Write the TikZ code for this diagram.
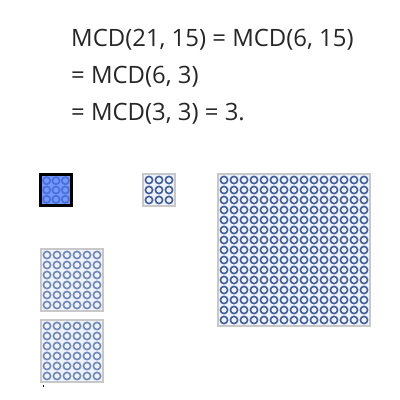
\documentclass[tikz,border=0pt]{standalone}
\usepackage{fontspec}
\setmainfont{Open Sans}
\usetikzlibrary{positioning}

\definecolor{tileframe}{HTML}{C8C8C8}
\definecolor{tilefill}{HTML}{EEF2FF}
\definecolor{ringdark}{HTML}{3E5C98}
\definecolor{ringlight}{HTML}{6E86B8}
\definecolor{pickfill}{HTML}{7098FF}
\definecolor{pickring}{HTML}{4A6ED8}

% grid of rings: left, top, count, cell size, colour
\newcommand{\ringgrid}[5]{%
  \foreach \i in {1,...,#3}
    \foreach \j in {1,...,#3}
      \draw[line width=1.6pt, draw=#5] ({#1+(\i-0.5)*#4},{#2+(\j-0.5)*#4}) circle (3.6);
}

\tikzset{
  eqtext/.style={anchor=base west, inner sep=0pt, font=\fontsize{23.9}{28}\selectfont, text=black!85},
}

\begin{document}
\begin{tikzpicture}[x=1pt,y=-1pt]
\useasboundingbox (0,0) rectangle (400,400);
% equations
\node[eqtext] (line1) at (71,46) {MCD(21, 15) = MCD(6, 15)};
\node[eqtext] (line2) at (71,83) {= MCD(6, 3)};
\node[eqtext] (line3) at (71,120) {= MCD(3, 3) = 3.};
% chosen square
\fill[black] (39,173) rectangle (73,207);
\fill[pickfill] (42,176) rectangle (70,204);
\ringgrid{42}{176}{3}{9.3333}{pickring}
% small square
\fill[tileframe] (142,173) rectangle (176,207);
\fill[tilefill] (144,175) rectangle (174,205);
\ringgrid{144}{175}{3}{10}{ringdark}
% big square
\fill[tileframe] (217,173) rectangle (371,327);
\fill[tilefill] (219,175) rectangle (369,325);
\ringgrid{219}{175}{15}{10}{ringdark}
% two left squares
\fill[tileframe] (40,248) rectangle (104,312);
\fill[tilefill] (42,250) rectangle (102,310);
\ringgrid{42}{250}{6}{10}{ringlight}
\fill[tileframe] (40,319) rectangle (104,383);
\fill[tilefill] (42,321) rectangle (102,381);
\ringgrid{42}{321}{6}{10}{ringlight}
% stray mark
\fill[black] (42.5,384.5) rectangle (43.5,387);
\end{tikzpicture}
\end{document}
